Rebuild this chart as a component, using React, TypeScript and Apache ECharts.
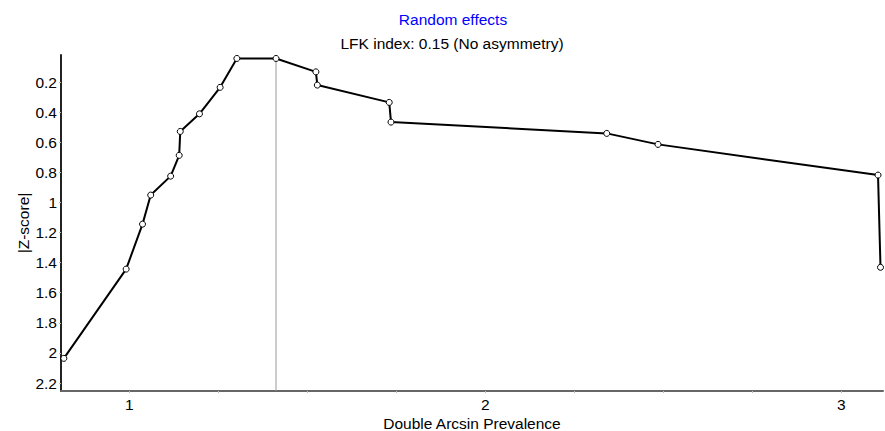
import React, { useEffect, useRef } from "react";
import * as echarts from "echarts";

const xValues = [0.816, 0.991, 1.037, 1.060, 1.116, 1.140, 1.143, 1.197, 1.255, 1.302, 1.412, 1.524, 1.528, 1.730, 1.735, 2.341, 2.485, 3.103, 3.110];
const zValues = [2.036, 1.443, 1.144, 0.951, 0.825, 0.687, 0.528, 0.411, 0.235, 0.043, 0.043, 0.132, 0.220, 0.335, 0.466, 0.541, 0.614, 0.818, 1.431];
const xTickValues = [1, 1.25, 1.5, 1.75, 2, 2.25, 2.5, 2.75, 3];
const xLabelValues = [1, 2, 3];
const yLabelValues = [0.2, 0.4, 0.6, 0.8, 1, 1.2, 1.4, 1.6, 1.8, 2, 2.2];
const refX = 1.412;
const xMin = 0.808;
const xMax = 3.117;
const yMin = 0.02;
const yMax = 2.253;
const titleText = "Random effects";
const subtitleText = "LFK index: 0.15 (No asymmetry)";

const FONT = "'Liberation Sans', Arial, sans-serif";
const FS = 15.5;

export default function App() {
  const ref = useRef<HTMLDivElement>(null);
  useEffect(() => {
    if (!ref.current) return;
    const chart = echarts.init(ref.current, null, { renderer: "svg" });
    const points = xValues.map((x, i) => [x, zValues[i]]);
    const minZ = Math.min(...zValues);
    chart.setOption({
      animation: false,
      backgroundColor: "#ffffff",
      textStyle: { fontFamily: FONT },
      title: [
        {
          text: titleText,
          left: 448,
          top: 6,
          textAlign: "center",
          textStyle: { color: "#0000ff", fontSize: FS, fontWeight: "normal", fontFamily: FONT },
        },
        {
          text: subtitleText,
          left: 447,
          top: 30,
          textAlign: "center",
          textStyle: { color: "#000000", fontSize: FS, fontWeight: "normal", fontFamily: FONT },
        },
      ],
      grid: { left: 61, right: 2, top: 55, bottom: 40, containLabel: false, outerBoundsMode: "none" },
      xAxis: {
        type: "value",
        min: xMin,
        max: xMax,
        name: "Double Arcsin Prevalence",
        nameLocation: "middle",
        nameGap: 24,
        nameMoveOverlap: false,
        nameTextStyle: { color: "#000", fontSize: FS, fontFamily: FONT },
        axisLine: { show: true, onZero: false, lineStyle: { color: "#666", width: 2 } },
        axisTick: { show: true, customValues: xTickValues, length: 2, lineStyle: { color: "#bbb", width: 1 } },
        axisLabel: {
          customValues: xLabelValues,
          color: "#000",
          fontSize: FS,
          margin: 5,
          fontFamily: FONT,
        },
        splitLine: { show: false },
      },
      yAxis: {
        type: "value",
        inverse: true,
        min: yMin,
        max: yMax,
        name: "|Z-score|",
        nameLocation: "middle",
        nameGap: 30,
        nameMoveOverlap: false,
        nameRotate: 90,
        nameTextStyle: { color: "#000", fontSize: FS, fontFamily: FONT },
        axisLine: { show: true, onZero: false, lineStyle: { color: "#222", width: 2 } },
        axisTick: { show: true, customValues: yLabelValues, length: 2, lineStyle: { color: "#bbb", width: 1 } },
        axisLabel: {
          customValues: yLabelValues,
          color: "#000",
          fontSize: FS,
          margin: 4,
          fontFamily: FONT,
          formatter: (v: number) => String(+v.toFixed(1)),
        },
        splitLine: { show: false },
      },
      series: [
        {
          type: "line",
          data: [[refX, minZ], [refX, yMax]],
          symbol: "none",
          lineStyle: { color: "#999", width: 1 },
          silent: true,
          z: 1,
        },
        {
          type: "line",
          data: points,
          symbol: "circle",
          symbolSize: 6,
          itemStyle: { color: "#ffffff", borderColor: "#000", borderWidth: 1 },
          lineStyle: { color: "#000", width: 2 },
          z: 3,
        },
      ],
    });
    return () => chart.dispose();
  }, []);
  return (
    <div
      ref={ref}
      style={{ position: "absolute", left: 0, top: 0, width: 885, height: 431 }}
    />
  );
}
